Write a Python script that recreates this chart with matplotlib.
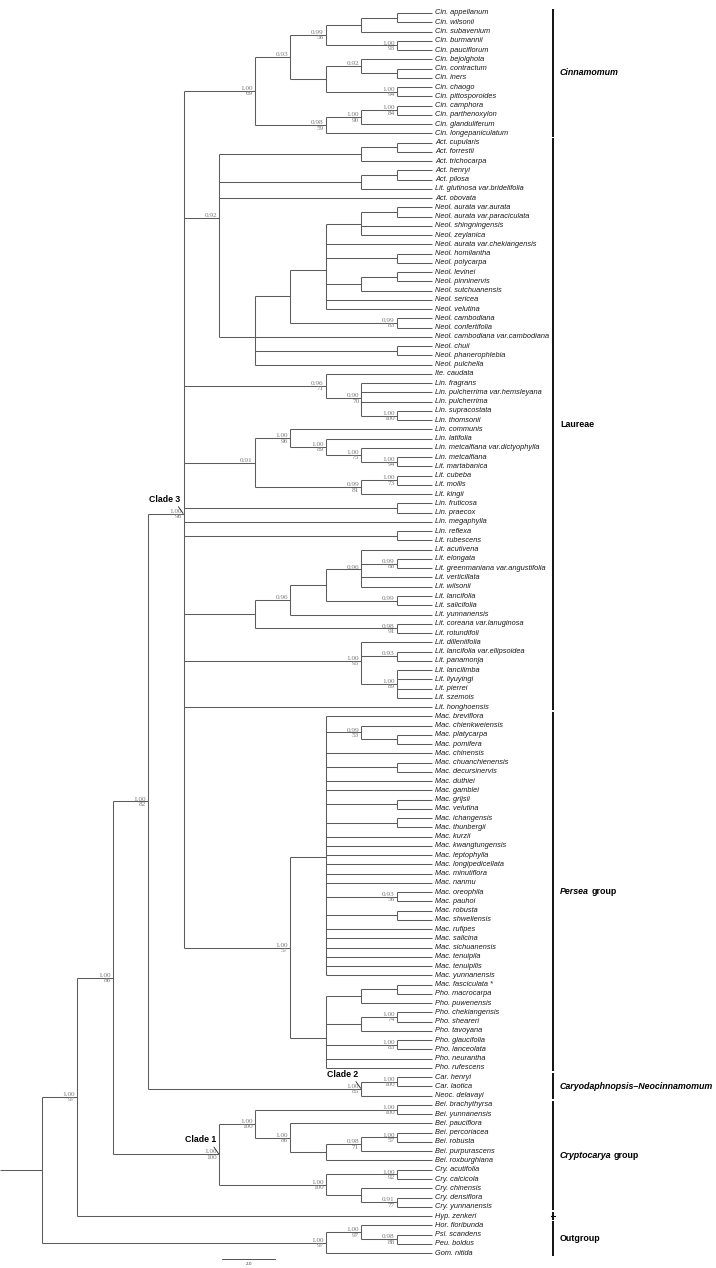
import matplotlib
matplotlib.use("Agg")
import matplotlib.pyplot as plt
from matplotlib.collections import LineCollection

# clades as newick text, node labels are posterior / bootstrap
CINNAMOMUM = ("(((((Cin. appellanum,Cin. wilsonii),Cin. subavenium),"
              "(Cin. burmannii,Cin. pauciflorum)1.00/93)0.99/56,"
              "((Cin. bejolghota,(Cin. contractum,Cin. iners))0.92,"
              "(Cin. chaogo,Cin. pittosporoides)1.00/94))0.93,"
              "(((Cin. camphora,Cin. parthenoxylon)1.00/84,Cin. glanduliferum)1.00/90,"
              "Cin. longepaniculatum)0.98/59)1.00/69")
ACT_NEOL = ("(((Act. cupularis,Act. forrestii),Act. trichocarpa),"
            "((Act. henryi,Act. pilosa),Lit. glutinosa var.bridelifolia),Act. obovata,"
            "(((((Neol. aurata var.aurata,Neol. aurata var.paraciculata),Neol. shingningensis,"
            "Neol. zeylanica),Neol. aurata var.chekiangensis,(Neol. homilantha,Neol. polycarpa),"
            "((Neol. levinei,Neol. pinninervis),Neol. sutchuanensis),Neol. sericea,Neol. velutina),"
            "(Neol. cambodiana,Neol. confertifolia)0.99/83),Neol. cambodiana var.cambodiana,"
            "(Neol. chuii,Neol. phanerophlebia),Neol. pulchella))0.92")
LINDERA_A = ("(Ite. caudata,(Lin. fragrans,Lin. pulcherrima var.hemsleyana,Lin. pulcherrima,"
             "(Lin. supracostata,Lin. thomsonii)1.00/100)0.90/70)0.96/71")
LINDERA_B = ("((Lin. communis,(Lin. latifolia,(Lin. metcalfiana var.dictyophylla,"
             "(Lin. metcalfiana,Lit. martabanica)1.00/94)1.00/75)1.00/89)1.00/96,"
             "((Lit. cubeba,Lit. mollis)1.00/73,Lit. kingii)0.99/81)0.91")
LAUREAE_SMALL = "(Lin. fruticosa,Lin. praecox),Lin. megaphylla,(Lin. reflexa,Lit. rubescens)"
LITSEA_A = ("((((Lit. acutivena,(Lit. elongata,Lit. greenmaniana var.angustifolia)0.99/88,"
            "Lit. verticillata,Lit. wilsonii)0.96,(Lit. lancifolia,Lit. salicifolia)0.99),"
            "Lit. yunnanensis)0.96,(Lit. coreana var.lanuginosa,Lit. rotundifoli)0.98/91)")
LITSEA_B = ("(Lit. dilleniifolia,(Lit. lancifolia var.ellipsoidea,Lit. panamonja)0.93,"
            "(Lit. lancilimba,Lit. liyuyingi,Lit. pierrei,Lit. szemois)1.00/89)1.00/95")
PERSEA = ("((Mac. breviflora,(Mac. chienkweiensis,(Mac. platycarpa,Mac. pomifera))0.99/53,"
          "Mac. chinensis,(Mac. chuanchienensis,Mac. decursinervis),Mac. duthiei,Mac. gamblei,"
          "(Mac. grijsii,Mac. velutina),(Mac. ichangensis,Mac. thunbergii),Mac. kurzii,"
          "Mac. kwangtungensis,Mac. leptophylla,Mac. longipedicellata,Mac. minutiflora,Mac. nanmu,"
          "(Mac. oreophila,Mac. pauhoi)0.93/56,(Mac. robusta,Mac. shweliensis),Mac. rufipes,"
          "Mac. salicina,Mac. sichuanensis,Mac. tenuipila,Mac. tenuipilis,Mac. yunnanensis),"
          "(((Mac. fasciculata *,Pho. macrocarpa),Pho. puwenensis),"
          "((Pho. chekiangensis,Pho. sheareri)1.00/74,Pho. tavoyana),"
          "(Pho. glaucifolia,Pho. lanceolata)1.00/83,Pho. neurantha,Pho. rufescens))1.00/57")
CLADE2 = "((Car. henryi,Car. laotica)1.00/100,Neoc. delavayi)1.00/85"
CLADE1 = ("(((Bei. brachythyrsa,Bei. yunnanensis)1.00/100,(Bei. pauciflora,"
          "(((Bei. percoriacea,Bei. robusta)1.00/57,Bei. purpurascens)0.98/71,"
          "Bei. roxburghiana))1.00/86)1.00/100,((Cry. acutifolia,Cry. calcicola)1.00/92,"
          "(Cry. chinensis,(Cry. densiflora,Cry. yunnanensis)0.91/77))1.00/100)1.00/100")
OUTGROUP = "((Hor. floribunda,(Psl. scandens,Peu. boldus)0.98/88)1.00/97,Gom. nitida)1.00/97"

CLADE3 = "(" + ",".join([CINNAMOMUM, ACT_NEOL, LINDERA_A, LINDERA_B, LAUREAE_SMALL,
                         LITSEA_A, LITSEA_B, "Lit. honghoensis", PERSEA]) + ")1.00/98"
TREE = "((((" + CLADE3 + "," + CLADE2 + ")1.00/82," + CLADE1 + ")1.00/86,Hyp. zenkeri)1.00/97," + OUTGROUP + ")"

CLADE_NAMES = ["Clade 1", "Clade 2", "Clade 3"]
CLADE_SPANS = [("Bei. brachythyrsa", "Cry. yunnanensis"),
               ("Car. henryi", "Neoc. delavayi"),
               ("Cin. appellanum", "Pho. rufescens")]

GROUP_ITALIC = ["Cinnamomum", "", "Persea", "Caryodaphnopsis\u2013Neocinnamomum", "Cryptocarya", ""]
GROUP_PLAIN = ["", "Laureae", "group", "", "group", "Outgroup"]
GROUP_SPANS = [("Cin. appellanum", "Cin. longepaniculatum"),
               ("Act. cupularis", "Lit. honghoensis"),
               ("Mac. breviflora", "Pho. rufescens"),
               ("Car. henryi", "Neoc. delavayi"),
               ("Bei. brachythyrsa", "Cry. yunnanensis"),
               ("Hor. floribunda", "Gom. nitida")]
MARKED_TAXON = "Hyp. zenkeri"
SCALE_LABEL = "2.0"


def parse(s):
    pos = 0

    def node():
        nonlocal pos
        if s[pos] == "(":
            pos += 1
            kids = [node()]
            while s[pos] == ",":
                pos += 1
                kids.append(node())
            pos += 1
            start = pos
            while pos < len(s) and s[pos] not in ",);":
                pos += 1
            return {"kids": kids, "label": s[start:pos].strip()}
        start = pos
        while pos < len(s) and s[pos] not in ",();":
            pos += 1
        return {"name": s[start:pos].strip()}

    return node()


leaves = []


def layout(n):
    if "name" in n:
        n["y"] = len(leaves)
        n["h"] = 0
        n["lo"] = n["hi"] = len(leaves)
        leaves.append(n)
    else:
        for k in n["kids"]:
            layout(k)
        n["h"] = 1 + max(k["h"] for k in n["kids"])
        n["y"] = sum(k["y"] for k in n["kids"]) / len(n["kids"])
        n["lo"] = n["kids"][0]["lo"]
        n["hi"] = n["kids"][-1]["hi"]
    n["x"] = -n["h"]


root = parse(TREE)
layout(root)
index = {n["name"]: n["y"] for n in leaves}

W, H = 716, 1268
STEP, TIP_PX, ROW, TOP_PX = 35.5, 432, 9.254, 13
fig = plt.figure(figsize=(W / 100, H / 100), dpi=100)
ax = fig.add_axes([0, 0, 1, 1])
x_left = -TIP_PX / STEP
ax.set_xlim(x_left, (W - TIP_PX) / STEP)
ax.set_ylim((H - TOP_PX) / ROW, -TOP_PX / ROW)
ax.axis("off")

segs = []
nodes = []


def walk(n):
    if "kids" not in n:
        return
    nodes.append(n)
    ys = [k["y"] for k in n["kids"]]
    segs.append([(n["x"], min(ys)), (n["x"], max(ys))])
    for k in n["kids"]:
        segs.append([(n["x"], k["y"]), (k["x"], k["y"])])
        walk(k)


walk(root)
segs.append([(x_left, root["y"]), (root["x"], root["y"])])
ax.add_collection(LineCollection(segs, colors="#5c5c5c", linewidths=0.75))

sup = dict(fontsize=5.2, family=["Liberation Serif", "DejaVu Serif"], color="#7a7a7a",
           textcoords="offset points", ha="right")
for n in nodes:
    if not n["label"]:
        continue
    parts = n["label"].split("/")
    ax.annotate(parts[0], (n["x"], n["y"]), xytext=(-1.3, 0.6), va="baseline", **sup)
    if len(parts) > 1:
        ax.annotate(parts[1], (n["x"], n["y"]), xytext=(-1.3, -0.3), va="top", **sup)

for n in leaves:
    ax.annotate(n["name"], (0, n["y"]), xytext=(2.2, 0), textcoords="offset points",
                va="center", ha="left", fontsize=5.3, style="italic",
                family=["Liberation Sans", "DejaVu Sans"], color="#1a1a1a")

# clade callouts
for name, (a, b) in zip(CLADE_NAMES, CLADE_SPANS):
    n = [m for m in nodes if m["lo"] == index[a] and m["hi"] == index[b]][0]
    ax.annotate(name, (n["x"], n["y"]), xytext=(-3, 10), textcoords="offset pixels",
                ha="right", va="bottom", fontsize=6.3, fontweight="bold",
                family=["Liberation Sans", "DejaVu Sans"],
                arrowprops=dict(arrowstyle="-", lw=0.6, color="#222222", shrinkA=0,
                                shrinkB=0.5, relpos=(0.85, 0.1)))

# group bars on the right
bar_x = (553 - TIP_PX) / STEP
lab_x = (560 - TIP_PX) / STEP
GFS = 6.4
gfont = dict(fontsize=GFS, fontweight="bold", family=["Liberation Sans", "DejaVu Sans"],
             va="center", ha="left")
for ital, plain, (a, b) in zip(GROUP_ITALIC, GROUP_PLAIN, GROUP_SPANS):
    y0, y1 = index[a] - 0.45, index[b] + 0.35
    ax.plot([bar_x, bar_x], [y0, y1], color="#111111", lw=1.4, solid_capstyle="butt")
    ym = (y0 + y1) / 2
    if ital:
        t = ax.text(lab_x, ym, ital, style="italic", **gfont)
        if plain:
            ax.annotate(plain, xy=(1, 0), xycoords=t, xytext=(1.8, 0),
                        textcoords="offset points", va="bottom", ha="left",
                        fontsize=GFS, fontweight="bold",
                        family=["Liberation Sans", "DejaVu Sans"])
    else:
        ax.text(lab_x, ym, plain, **gfont)

ym = index[MARKED_TAXON]
ax.plot([bar_x, bar_x], [ym - 0.4, ym + 0.4], color="#111111", lw=1.4, solid_capstyle="butt")
ax.plot([bar_x - 0.07, bar_x + 0.07], [ym, ym], color="#111111", lw=0.8)

# scale bar
sb_y = (1259 - TOP_PX) / ROW
sx0, sx1 = (222 - TIP_PX) / STEP, (275 - TIP_PX) / STEP
ax.plot([sx0, sx1], [sb_y, sb_y], color="#333333", lw=0.6)
ax.text((sx0 + sx1) / 2, sb_y + 0.35, SCALE_LABEL, fontsize=3, ha="center", va="top",
        color="#333333")

fig.savefig("out.png", dpi=100, facecolor="white")
